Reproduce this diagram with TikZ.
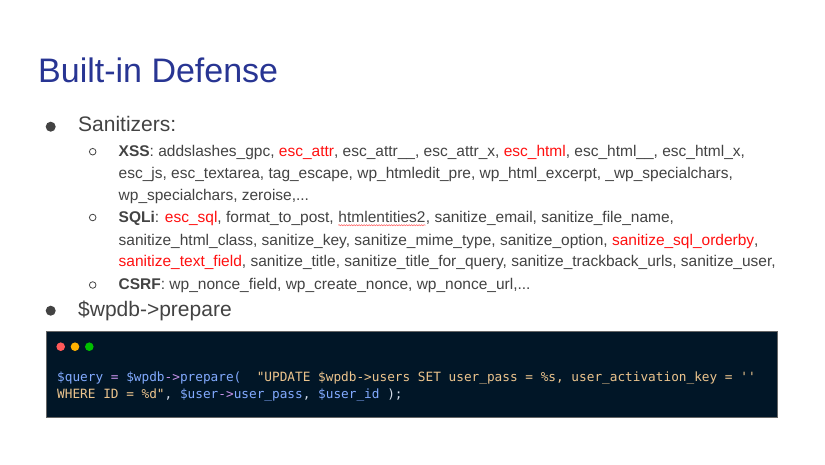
\documentclass[tikz,border=0pt]{standalone}
\usepackage{fontspec}
\setmainfont{Liberation Sans}
\newfontfamily\codefont{DejaVu Sans Mono}
\usetikzlibrary{decorations.pathmorphing}
\definecolor{titleblue}{HTML}{283593}
\definecolor{textgray}{HTML}{434343}
\definecolor{hlred}{HTML}{FF1010}
\definecolor{codebg}{HTML}{011627}
\definecolor{codeblue}{HTML}{82AAFF}
\definecolor{codepurple}{HTML}{C792EA}
\definecolor{codestr}{HTML}{ECC48D}
\definecolor{codepunct}{HTML}{D6DEEB}
\newcommand{\hl}[1]{\textcolor{hlred}{#1}}
\begin{document}
\begin{tikzpicture}[x=1pt,y=-1pt,
    txt/.style={anchor=base west, inner sep=0pt, text=textgray, font=\fontsize{15.5}{18}\selectfont},
    big/.style={anchor=base west, inner sep=0pt, text=textgray, font=\fontsize{21}{24}\selectfont},
    code/.style={anchor=base west, inner sep=0pt, font=\codefont\fontsize{12.75}{15}\selectfont}]
            \fill[white] (0,0) rectangle (825,464);
            \useasboundingbox (0,0) rectangle (825,464);
            % Titulo
            \node at (38,82) (titulo) [anchor=base west, inner sep=0pt, text=titleblue, font=\fontsize{34}{40}\selectfont] {Built-in Defense};
            % Primeiro item - Sanitizers
            \fill[textgray] (50.7,126.7) circle (5);
            \node at (78,131.7) (san) [big] {Sanitizers:};
            \draw[textgray, line width=0.8] (92.7,151.7) circle (3.3);
            \node at (118.5,156) (xss1) [txt] {\textbf{XSS}: addslashes\_gpc, \hl{esc\_attr}, esc\_attr\_\_, esc\_attr\_x, \hl{esc\_html}, esc\_html\_\_, esc\_html\_x,};
            \node at (118.5,178.3) (xss2) [txt] {esc\_js, esc\_textarea, tag\_escape, wp\_htmledit\_pre, wp\_html\_excerpt, \_wp\_specialchars,};
            \node at (118.5,200) (xss3) [txt] {wp\_specialchars, zeroise,...};
            \draw[textgray, line width=0.8] (92.7,217.5) circle (3.3);
            \node at (118.5,222.7) (sqli1) [txt] {\textbf{SQLi}: \hl{esc\_sql}, format\_to\_post,\ \mbox{}};
            \node at (sqli1.base east) (ent) [txt] {htmlentities2};
            \node at (ent.base east) (sqli1b) [txt] {, sanitize\_email, sanitize\_file\_name,};
            \draw[hlred!70, line width=0.5, decorate, decoration={snake, amplitude=0.6pt, segment length=2.5pt}] ([yshift=-2.5pt]ent.base west) -- ([yshift=-2.5pt]ent.base east);
            \node at (118.5,245) (sqli2) [txt] {sanitize\_html\_class, sanitize\_key, sanitize\_mime\_type, sanitize\_option, \hl{sanitize\_sql\_orderby},};
            \node at (118.5,266.7) (sqli3) [txt] {\hl{sanitize\_text\_field}, sanitize\_title, sanitize\_title\_for\_query, sanitize\_trackback\_urls, sanitize\_user,};
            \draw[textgray, line width=0.8] (92.7,285) circle (3.3);
            \node at (118.5,289.3) (csrf) [txt] {\textbf{CSRF}: wp\_nonce\_field, wp\_create\_nonce, wp\_nonce\_url,...};
            % Segundo item - prepare
            \fill[textgray] (50.7,310.7) circle (5);
            \node at (78,316.7) (prep) [big] {\$wpdb->prepare};
            % Bloco de codigo
            \filldraw[fill=codebg, draw=gray!80!black, line width=0.8] (46.5,331.5) rectangle (777.5,417.5);
            \fill[red!65!white] (60.7,346.7) circle (4.3);
            \fill[orange!60!yellow] (75,346.7) circle (4.3);
            \fill[green!75!black] (89.3,346.7) circle (4.3);
            \node at (57,381.7) (cod1) [code] {\textcolor{codeblue}{\$query} \textcolor{codepurple}{=} \textcolor{codeblue}{\$wpdb}\textcolor{codepurple}{->}\textcolor{codeblue}{prepare(}\ \ \textcolor{codestr}{\textquotedbl UPDATE \$wpdb->users SET user\_pass = \%s, user\_activation\_key = \textquotesingle\textquotesingle}};
            \node at (57,398.3) (cod2) [code] {\textcolor{codestr}{WHERE ID = \%d\textquotedbl}\textcolor{codepunct}{,} \textcolor{codeblue}{\$user}\textcolor{codepurple}{->}\textcolor{codeblue}{user\_pass}\textcolor{codepunct}{,} \textcolor{codeblue}{\$user\_id} \textcolor{codepunct}{);}};
        \end{tikzpicture}
\end{document}
